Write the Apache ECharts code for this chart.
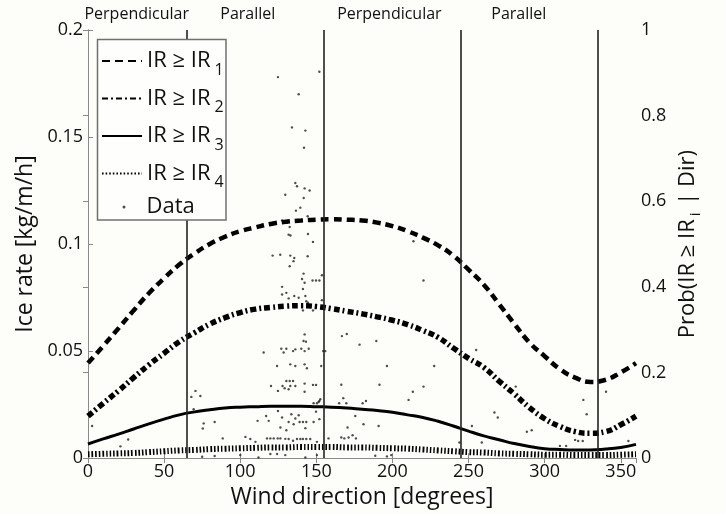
<!DOCTYPE html>
<html>
<head>
<meta charset="utf-8">
<script src="https://cdn.jsdelivr.net/npm/echarts@6/dist/echarts.min.js"></script>
<style>
  html, body { margin: 0; padding: 0; background: #fdfdf9; }
  #chart { width: 726px; height: 514px; }
</style>
</head>
<body>
<div id="chart"></div>
<script>
// Wind direction grid (degrees) for the fitted conditional probabilities
const directions = [0,10,20,30,40,50,60,70,80,90,100,110,120,130,140,150,160,170,180,
  190,200,210,220,230,240,250,260,270,280,290,300,310,320,330,340,350,360];

// Prob(IR >= IR_i | Dir) for the four ice-rate thresholds
const probIR1 = [0.222,0.262,0.303,0.345,0.385,0.420,0.452,0.478,0.500,0.517,0.530,0.539,0.547,
  0.552,0.555,0.557,0.558,0.557,0.555,0.550,0.542,0.530,0.515,0.497,0.473,0.440,0.405,0.360,
  0.314,0.270,0.238,0.208,0.188,0.178,0.183,0.200,0.222];
const probIR2 = [0.098,0.128,0.157,0.188,0.218,0.245,0.272,0.293,0.313,0.328,0.340,0.348,0.352,
  0.355,0.356,0.354,0.349,0.343,0.337,0.330,0.322,0.312,0.298,0.282,0.257,0.233,0.212,0.180,
  0.150,0.118,0.092,0.074,0.062,0.058,0.062,0.078,0.098];
const probIR3 = [0.033,0.045,0.056,0.068,0.080,0.091,0.101,0.108,0.113,0.117,0.119,0.120,0.121,
  0.121,0.121,0.120,0.119,0.117,0.114,0.111,0.107,0.101,0.095,0.086,0.075,0.063,0.052,0.043,
  0.034,0.027,0.022,0.020,0.019,0.019,0.021,0.025,0.032];
const probIR4 = [0.009,0.010,0.011,0.012,0.014,0.016,0.018,0.019,0.021,0.022,0.023,0.024,0.025,
  0.025,0.026,0.026,0.026,0.025,0.025,0.024,0.023,0.022,0.020,0.018,0.016,0.014,0.013,0.011,
  0.010,0.009,0.008,0.008,0.007,0.007,0.007,0.008,0.009];

// Observed ice rates: [wind direction (deg), ice rate (kg/m/h)]
const observations = [
  [124.8,0.178],[152,0.1805],[138.4,0.170],[134,0.1545],[142.8,0.153],[141.9,0.145],[136.2,0.1285],
  [137.3,0.127],[142.3,0.126],[145.6,0.125],[129.6,0.123],[141.7,0.1215],[139.5,0.117],[136.6,0.1156],
  [144.3,0.113],[127.5,0.111],[130.7,0.110],[132.5,0.108],[121,0.109],[133,0.104],[131.8,0.1044],
  [144.5,0.1047],[147.8,0.101],[121.3,0.0946],[126.3,0.095],[132.9,0.0946],[135.5,0.0935],[135,0.092],
  [132.5,0.0896],[144.3,0.0943],[141.6,0.0862],[153.7,0.0854],[140.6,0.0837],[142.3,0.0819],
  [147.5,0.083],[149.8,0.083],[152,0.083],[127.5,0.080],[141.2,0.079],[127.5,0.0764],[130.3,0.0772],
  [131.8,0.0746],[135.5,0.0757],[138.4,0.0749],[142.8,0.0757],[143.4,0.0733],[144.5,0.0726],
  [147.8,0.069],[141.2,0.069],[153.7,0.0738],[142.3,0.0578],[143.2,0.0544],[141.6,0.0547],
  [115.4,0.0493],[127,0.0511],[130.3,0.0511],[128.5,0.0493],[134.7,0.050],[136.2,0.0508],
  [140.1,0.0511],[142.3,0.050],[145,0.0511],[154.5,0.050],[124.2,0.043],[132.9,0.0438],[136.2,0.043],
  [142.3,0.0438],[143.8,0.042],[153.2,0.043],[130.3,0.036],[132.5,0.036],[134.7,0.036],[120.2,0.0337],
  [127.8,0.0337],[129.2,0.0326],[132.9,0.0337],[136.2,0.0337],[131.8,0.0322],[124.8,0.0314],
  [142.3,0.0348],[142.3,0.031],[147.8,0.0342],[149.8,0.0342],[67.9,0.0286],[70.6,0.0314],[73.8,0.029],
  [69.4,0.0228],[76,0.0162],[75.4,0.0138],[83.2,0.0169],[111.4,0.0174],[117,0.0197],[118.7,0.0174],
  [124.8,0.022],[127.5,0.019],[126.4,0.0143],[130.3,0.013],[131.8,0.0169],[133.6,0.0205],[135.1,0.0158],
  [136.2,0.0185],[138.4,0.020],[139,0.0169],[141.2,0.0169],[143.4,0.0169],[142.8,0.014],[148.2,0.0169],
  [152,0.0182],[149.8,0.0217],[148.2,0.0256],[150.4,0.0256],[152,0.0267],[151.5,0.0262],[152.6,0.0275],
  [88.5,0.0092],[103.4,0.0099],[106.6,0.0089],[110,0.0076],[117.6,0.0092],[119.8,0.0092],[122,0.0092],
  [124.6,0.0092],[126.4,0.0092],[129.6,0.009],[131.8,0.0089],[134.7,0.0081],[137.3,0.0089],
  [139.5,0.0089],[141.2,0.0089],[143.4,0.0089],[146,0.0089],[150.4,0.0076],[75,0.0006],[83.2,0.001],
  [112,0.0003],[119.8,0.0019],[124.2,0.0019],[129.6,0.0014],[142.8,0.0003],[150.4,0.0014],[100,0.0014],
  [2.7,0.015],[26.4,0.0087],[21.3,0.0055],
  [213.8,0.1013],[220.4,0.083],[166.8,0.057],[170,0.058],[178.4,0.053],[189.4,0.0547],[155.9,0.050],
  [196.4,0.043],[227.4,0.043],[166.4,0.0343],[191.5,0.0343],[220.4,0.0334],[213.4,0.031],[210.6,0.0272],
  [167.7,0.028],[165,0.0256],[169.7,0.0256],[180.4,0.0256],[182.6,0.0267],[175.6,0.0197],[181,0.0158],
  [190.9,0.015],[170.5,0.0143],[166.4,0.0096],[168.4,0.0092],[171.2,0.0096],[173.8,0.0107],[176,0.0092],
  [158,0.0092],[196.4,0.0008],[199.2,0.0014],[188.7,0.0011],
  [255,0.0505],[281,0.0334],[325.4,0.0272],[340.3,0.031],[327.6,0.0205],[267,0.0213],[269.2,0.019],
  [252.2,0.015],[288.3,0.0123],[291.5,0.013],[320,0.0085],[322,0.008],[325,0.008],[258.7,0.0073],
  [314.1,0.0057],[244,0.0073],[355,0.008],[310,0.0057]
];

// Sector boundaries and their labels along the top
const sectorBounds = [65, 155, 245, 335];
const sectorNames = ['Perpendicular', 'Parallel', 'Perpendicular', 'Parallel'];
const sectorLabelDirs = [32, 105, 198, 283];

const xTicks = { min: 0, max: 360, interval: 50 };
const rateTicks = { min: 0, max: 0.2, interval: 0.05 };
const probTicks = { min: 0, max: 1, interval: 0.2 };

const FONT = '"Open Sans", "Noto Sans", sans-serif';
const INK = '#111';
const FRAME = '#8a8a8a';

const chart = echarts.init(document.getElementById('chart'), null, { renderer: 'canvas' });

const pair = (ys) => directions.map((d, i) => [d, ys[i]]);
const thresholdName = (k) => 'IR ≥ IR' + k;

const lineSeries = (name, data, lineStyle) => ({
  name, type: 'line', data, xAxisIndex: 0, yAxisIndex: 1,
  symbol: 'none', showSymbol: false, smooth: true, z: 3, silent: true,
  itemStyle: { color: '#000' },
  lineStyle: Object.assign({ color: '#000', cap: 'butt' }, lineStyle)
});

const axisCommon = {
  axisLine: { show: true, lineStyle: { color: FRAME, width: 1 } },
  axisTick: { show: true, inside: true, length: 5, lineStyle: { color: FRAME } },
  splitLine: { show: false }
};

chart.setOption({
  backgroundColor: '#fdfdf9',
  animation: false,
  grid: { left: 88, right: 90, top: 30, bottom: 55 },
  xAxis: [
    Object.assign({
      type: 'value', position: 'bottom', ...xTicks,
      name: 'Wind direction [degrees]', nameLocation: 'middle', nameGap: 20,
      nameTextStyle: { fontFamily: FONT, fontSize: 23, color: INK },
      axisLabel: { fontFamily: FONT, fontSize: 18, color: INK, margin: 5 }
    }, axisCommon),
    Object.assign({
      type: 'value', position: 'top', ...xTicks,
      axisLabel: { show: false }
    }, axisCommon)
  ],
  yAxis: [
    Object.assign({
      type: 'value', position: 'left', ...rateTicks,
      name: 'Ice rate [kg/m/h]', nameLocation: 'middle', nameGap: 43,
      nameTextStyle: { fontFamily: FONT, fontSize: 23, color: INK },
      axisLabel: { fontFamily: FONT, fontSize: 18, color: INK, margin: 5 }
    }, axisCommon),
    Object.assign({
      type: 'value', position: 'right', ...probTicks,
      name: '{a|Prob(IR ≥ IR}{s|i}{a| | Dir)}', nameLocation: 'middle', nameGap: 30,
      nameTextStyle: {
        fontFamily: FONT, color: INK,
        rich: {
          a: { fontFamily: FONT, fontSize: 22, lineHeight: 30, color: INK },
          s: { fontFamily: FONT, fontSize: 15, lineHeight: 14, verticalAlign: 'bottom', color: INK, padding: [0, 2, 0, 3] }
        }
      },
      axisLabel: { fontFamily: FONT, fontSize: 18, color: INK, margin: 5 }
    }, axisCommon)
  ],
  legend: [
    {
      orient: 'vertical', left: 101, top: 50, padding: 0, z: 12,
      itemWidth: 40, itemHeight: 14, itemGap: 9.5,
      itemStyle: { opacity: 0 },
      data: [1, 2, 3, 4].map(thresholdName),
      formatter: (name) => '{t|' + name.slice(0, -1) + '}{s|' + name.slice(-1) + '}',
      textStyle: {
        fontFamily: FONT, color: INK,
        rich: {
          t: { fontFamily: FONT, fontSize: 22, lineHeight: 34, color: INK },
          s: { fontFamily: FONT, fontSize: 16, lineHeight: 16, verticalAlign: 'bottom', color: INK, padding: [0, 0, 0, 4] }
        }
      }
    },
    {
      orient: 'vertical', left: 122.5, top: 190, padding: 0, z: 12,
      itemWidth: 3, itemHeight: 3,
      data: [{ name: 'Data', icon: 'circle' }],
      textStyle: { fontFamily: FONT, fontSize: 22, lineHeight: 34, color: INK, padding: [0, 0, 0, 16] }
    }
  ],
  series: [
    {
      name: 'Data', type: 'scatter', data: observations, xAxisIndex: 0, yAxisIndex: 0,
      symbol: 'circle', symbolSize: 2.4, z: 2, silent: true,
      itemStyle: { color: '#222' },
      markLine: {
        silent: true, symbol: 'none', animation: false,
        label: { show: false },
        lineStyle: { color: '#222', width: 1.6, type: 'solid' },
        data: sectorBounds.map((v) => ({ xAxis: v }))
      }
    },
    lineSeries(thresholdName(1), pair(probIR1), { width: 4.5, type: [8, 5] }),
    lineSeries(thresholdName(2), pair(probIR2), { width: 5.5, type: [6, 3, 2, 3] }),
    lineSeries(thresholdName(3), pair(probIR3), { width: 3, type: 'solid' }),
    lineSeries(thresholdName(4), pair(probIR4), { width: 6, type: [1.6, 2] })
  ]
});

// Legend frame and sector captions, placed with the axis scale
const captionY = 14;
chart.setOption({
  graphic: [
    {
      type: 'rect', z: 10, silent: true,
      shape: { x: 97.5, y: 39.5, width: 128.5, height: 180.5 },
      style: { fill: '#fefefc', stroke: '#707070', lineWidth: 1.5 }
    }
  ].concat(sectorNames.map((t, i) => ({
    type: 'text', z: 10, silent: true,
    x: chart.convertToPixel({ xAxisIndex: 0 }, sectorLabelDirs[i]),
    y: captionY,
    style: { text: t, fill: INK, font: '16px ' + FONT, textAlign: 'center', textVerticalAlign: 'middle' }
  })))
});
</script>
</body>
</html>
